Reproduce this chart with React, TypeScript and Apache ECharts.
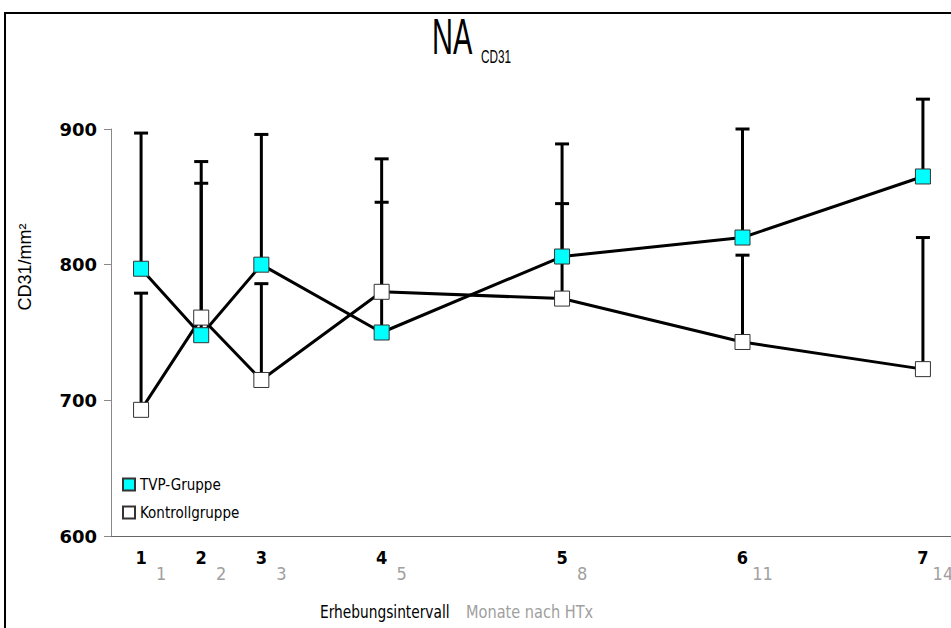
import React, { useEffect, useRef } from "react";
import * as echarts from "echarts";

const months = [1, 2, 3, 5, 8, 11, 14];
const intervals = ["1", "2", "3", "4", "5", "6", "7"];
const tvpMean = [797, 748, 800, 750, 806, 820, 865];
const tvpUpper = [897, 876, 896, 878, 889, 900, 922];
const ktrMean = [693, 761, 715, 780, 775, 743, 723];
const ktrUpper = [779, 860, 786, 846, 845, 807, 820];
const yTicks = [600, 700, 800, 900];

const SANS = "'Liberation Sans', Arial, sans-serif";
const NARROW = "'Liberation Sans Narrow', 'DejaVu Sans Condensed', 'Liberation Sans', sans-serif";
const DJ = "'DejaVu Sans', sans-serif";

export default function App() {
  const ref = useRef<HTMLDivElement>(null);
  useEffect(() => {
    if (!ref.current) return;
    const chart = echarts.init(ref.current, null, { renderer: "svg" });
    const errRender = (params: any, api: any) => {
      const p0 = api.coord([api.value(0), api.value(1)]);
      const p1 = api.coord([api.value(0), api.value(2)]);
      return {
        type: "group",
        children: [
          { type: "line", shape: { x1: p0[0], y1: p0[1], x2: p1[0], y2: p1[1] }, style: { stroke: "#000", lineWidth: 3 } },
          { type: "line", shape: { x1: p1[0] - 7, y1: p1[1], x2: p1[0] + 7, y2: p1[1] }, style: { stroke: "#000", lineWidth: 3 } },
        ],
      };
    };
    chart.setOption({
      animation: false,
      backgroundColor: "#fff",
      grid: { left: 111, top: 129, right: -2, bottom: 92, outerBoundsMode: "none" },
      legend: {
        data: ["TVP-Gruppe", "Kontrollgruppe"],
        orient: "vertical",
        left: 122,
        top: 477,
        padding: 0,
        itemGap: 13,
        itemWidth: 12,
        itemHeight: 12,
        icon: "rect",
        textStyle: { fontFamily: NARROW, fontSize: 15, fontWeight: 500, color: "#000" },
      },
      xAxis: [
        {
          type: "value",
          min: 0.5,
          max: 14.5,
          axisLine: { show: true, lineStyle: { color: "#666", width: 1 } },
          axisTick: { show: false },
          splitLine: { show: false },
          axisLabel: {
            customValues: months,
            formatter: (v: number) => intervals[months.indexOf(v)] ?? "",
            color: "#000",
            fontSize: 18,
            fontWeight: "bold",
            fontFamily: NARROW,
            margin: 12,
          },
        },
        {
          type: "value",
          min: 0.5,
          max: 14.5,
          position: "bottom",
          axisLine: { show: false },
          axisTick: { show: false },
          splitLine: { show: false },
          axisLabel: {
            customValues: months,
            formatter: (v: number) => String(v),
            color: "#a0a0a0",
            fontSize: 18,
            fontFamily: NARROW,
            margin: 28,
            padding: [0, 0, 0, 40],
          },
        },
      ],
      yAxis: {
        type: "value",
        min: 600,
        max: 900,
        interval: 100,
        axisLine: { show: true, lineStyle: { color: "#888", width: 1 } },
        axisTick: { show: true, length: 7, lineStyle: { color: "#888" }, customValues: yTicks },
        splitLine: { show: false },
        axisLabel: { color: "#000", fontSize: 18, fontWeight: "bold", fontFamily: DJ, margin: 14 },
      },
      series: [
        {
          type: "custom",
          name: "TVP SD",
          xAxisIndex: 0,
          renderItem: errRender,
          encode: { x: 0, y: [1, 2] },
          data: months.map((m, i) => [m, tvpMean[i], tvpUpper[i]]),
          z: 1,
        },
        {
          type: "custom",
          name: "Kontroll SD",
          xAxisIndex: 0,
          renderItem: errRender,
          encode: { x: 0, y: [1, 2] },
          data: months.map((m, i) => [m, ktrMean[i], ktrUpper[i]]),
          z: 1,
        },
        {
          type: "line",
          name: "TVP-Gruppe",
          xAxisIndex: 0,
          data: months.map((m, i) => [m, tvpMean[i]]),
          symbol: "rect",
          symbolSize: 15,
          showAllSymbol: true,
          lineStyle: { color: "#000", width: 3 },
          itemStyle: { color: "#00ffff", borderColor: "#333", borderWidth: 1 },
          z: 3,
        },
        {
          type: "line",
          name: "Kontrollgruppe",
          xAxisIndex: 0,
          data: months.map((m, i) => [m, ktrMean[i]]),
          symbol: "rect",
          symbolSize: 15,
          showAllSymbol: true,
          lineStyle: { color: "#000", width: 3 },
          itemStyle: { color: "#ffffff", borderColor: "#333", borderWidth: 1 },
          z: 3,
        },
      ],
      graphic: [
        { type: "rect", shape: { x: 5, y: 13, width: 1000, height: 700 }, style: { fill: "none", stroke: "#000", lineWidth: 2 }, z: 0 },
        { type: "text", x: 432, y: 37, scaleX: 0.58, style: { text: "NA", fontFamily: SANS, fontSize: 50, fill: "#000", verticalAlign: "middle", align: "left" } },
        { type: "text", x: 481, y: 56, scaleX: 0.62, style: { text: "CD31", fontFamily: SANS, fontSize: 19, fill: "#000", verticalAlign: "middle", align: "left" } },
        { type: "text", x: 25, y: 267, rotation: Math.PI / 2, style: { text: "CD31/mm²", fontFamily: SANS, fontSize: 18, fill: "#000", verticalAlign: "middle", align: "center" } },
        { type: "text", x: 320, y: 612, scaleX: 0.9, style: { text: "Erhebungsintervall", fontFamily: NARROW, fontSize: 17, fill: "#000", verticalAlign: "middle", align: "left" } },
        { type: "text", x: 466, y: 612, scaleX: 0.95, style: { text: "Monate nach HTx", fontFamily: NARROW, fontSize: 17, fill: "#a0a0a0", verticalAlign: "middle", align: "left" } },
      ],
    });
    return () => chart.dispose();
  }, []);
  return <div ref={ref} style={{ position: "fixed", left: 0, top: 0, width: 951, height: 628 }} />;
}
